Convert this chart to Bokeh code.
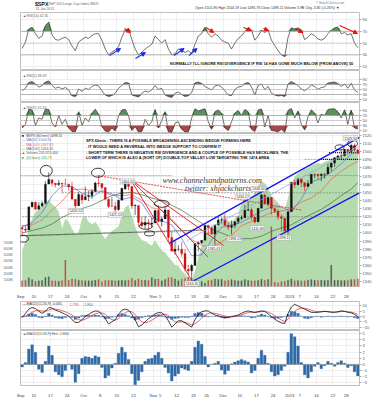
import json
import numpy as np
from bokeh.plotting import figure
from bokeh.layouts import column
from bokeh.models import (Range1d, LinearAxis, FixedTicker, Grid, Span, Label,
                          Arrow, NormalHead, CustomJSTickFormatter)
from bokeh.core.properties import value
from bokeh.embed import file_html
from bokeh.resources import INLINE

FONT = "Liberation Sans"

# ---------------- data (one entry per trading day, 4-Sep-2012 .. 31-Jan-2013) ----------------
opens = [1406.5, 1404.9, 1403.7, 1432.1, 1437.9, 1429.1, 1433.6, 1436.6, 1460.1, 1465.4,
         1461.2, 1459.5, 1461.1, 1460.3, 1459.8, 1456.9, 1441.6, 1433.4, 1447.1, 1440.9,
         1445.0, 1446.1, 1451.1, 1461.4, 1460.9, 1455.9, 1441.5, 1432.8, 1432.8, 1428.8,
         1440.3, 1454.2, 1460.9, 1457.3, 1433.2, 1433.7, 1413.2, 1409.7, 1413.0, 1411.0,
         1412.2, 1427.6, 1414.0, 1417.3, 1428.3, 1394.5, 1377.6, 1379.9, 1380.0, 1374.6,
         1355.4, 1353.4, 1359.9, 1386.8, 1387.8, 1391.0, 1409.2, 1406.3, 1398.8, 1410.0,
         1416.0, 1416.3, 1409.5, 1407.1, 1409.4, 1414.0, 1418.1, 1418.7, 1427.8, 1428.5,
         1419.5, 1413.5, 1430.5, 1446.8, 1435.8, 1443.7, 1430.2, 1426.7, 1419.8, 1418.1,
         1402.4, 1426.2, 1462.4, 1459.4, 1466.5, 1461.9, 1457.2, 1461.0, 1472.1, 1472.1,
         1470.7, 1472.3, 1472.6, 1480.9, 1486.0, 1492.6, 1494.8, 1494.8, 1503.0, 1500.2,
         1507.8, 1502.0]
highs = [1409.3, 1408.8, 1432.1, 1437.9, 1438.7, 1437.8, 1439.2, 1463.8, 1474.5, 1465.6,
         1461.5, 1465.2, 1461.2, 1467.1, 1460.7, 1463.2, 1441.6, 1450.2, 1447.1, 1457.1,
         1451.5, 1454.3, 1463.1, 1471.0, 1460.9, 1455.9, 1442.5, 1443.9, 1438.4, 1441.3,
         1455.5, 1462.2, 1464.0, 1457.3, 1435.5, 1433.7, 1420.0, 1421.1, 1417.1, 1418.8,
         1428.4, 1434.3, 1419.9, 1433.4, 1428.3, 1401.2, 1391.4, 1384.9, 1388.8, 1380.1,
         1360.6, 1362.0, 1386.9, 1389.8, 1391.3, 1409.2, 1409.2, 1409.0, 1410.0, 1419.7,
         1418.9, 1423.7, 1413.1, 1415.6, 1414.0, 1420.3, 1421.6, 1434.3, 1438.6, 1431.4,
         1419.5, 1430.7, 1448.0, 1447.8, 1443.7, 1443.7, 1430.2, 1429.4, 1422.8, 1418.1,
         1426.7, 1462.4, 1465.5, 1467.9, 1466.5, 1461.9, 1464.7, 1472.3, 1472.8, 1472.1,
         1473.3, 1473.0, 1485.2, 1486.0, 1492.6, 1496.1, 1502.3, 1503.3, 1503.2, 1509.4,
         1509.9, 1504.2]
lows = [1396.6, 1401.3, 1403.7, 1431.4, 1429.0, 1429.1, 1432.0, 1435.3, 1460.1, 1457.5,
        1456.1, 1457.9, 1450.0, 1459.5, 1452.1, 1441.6, 1430.5, 1433.4, 1435.6, 1440.9,
        1439.0, 1442.0, 1451.1, 1456.9, 1453.1, 1441.2, 1430.6, 1432.8, 1425.5, 1427.2,
        1440.3, 1453.4, 1452.6, 1429.9, 1422.1, 1407.6, 1407.1, 1405.1, 1403.3, 1406.0,
        1412.2, 1412.9, 1408.1, 1417.3, 1388.1, 1377.5, 1373.0, 1377.2, 1370.8, 1352.5,
        1348.1, 1343.4, 1359.9, 1377.0, 1386.4, 1391.0, 1397.7, 1398.0, 1385.4, 1409.0,
        1411.6, 1408.5, 1403.7, 1398.2, 1405.9, 1410.9, 1415.6, 1418.7, 1426.8, 1416.0,
        1411.9, 1413.5, 1430.5, 1435.8, 1432.8, 1422.6, 1424.7, 1416.4, 1401.6, 1401.6,
        1398.1, 1426.2, 1455.5, 1458.6, 1456.6, 1451.6, 1457.2, 1461.0, 1467.6, 1465.7,
        1463.8, 1467.1, 1472.6, 1475.8, 1481.2, 1489.9, 1489.5, 1494.8, 1496.3, 1498.1,
        1500.1, 1496.8]
closes = [1404.9, 1403.4, 1432.1, 1437.9, 1429.1, 1433.6, 1436.6, 1460.0, 1465.8, 1461.2,
          1459.3, 1461.1, 1460.3, 1460.2, 1456.9, 1441.6, 1433.3, 1447.2, 1440.7, 1444.5,
          1445.8, 1451.0, 1461.4, 1460.9, 1455.9, 1441.5, 1432.6, 1432.8, 1428.6, 1440.1,
          1454.9, 1460.9, 1457.3, 1433.2, 1433.8, 1413.1, 1408.8, 1413.0, 1411.9, 1412.2,
          1427.6, 1414.2, 1417.3, 1428.4, 1394.5, 1377.5, 1380.0, 1380.0, 1374.5, 1355.5,
          1353.3, 1359.9, 1386.9, 1387.8, 1391.0, 1409.2, 1406.3, 1398.9, 1409.9, 1416.0,
          1416.2, 1409.5, 1407.1, 1409.3, 1413.9, 1418.1, 1418.6, 1427.8, 1428.5, 1419.5,
          1413.6, 1430.4, 1446.8, 1435.8, 1443.7, 1430.2, 1426.7, 1419.8, 1418.1, 1402.4,
          1426.2, 1462.4, 1459.4, 1466.5, 1461.9, 1457.2, 1461.0, 1472.1, 1472.1, 1470.7,
          1472.3, 1472.6, 1480.9, 1486.0, 1492.6, 1494.8, 1494.8, 1503.0, 1500.2, 1507.8,
          1502.0, 1498.1]
volume_m = [90, 95, 140, 110, 85, 90, 95, 145, 155, 90,
            90, 85, 95, 420, 100, 120, 115, 100, 95, 90,
            90, 90, 100, 110, 75, 95, 100, 95, 90, 95,
            100, 95, 100, 130, 95, 120, 100, 100, 95, 140,
            115, 120, 90, 110, 140, 145, 120, 90, 115, 130,
            150, 125, 115, 90, 80, 55, 95, 100, 120, 110,
            115, 90, 100, 110, 95, 90, 90, 110, 100, 90,
            90, 95, 115, 100, 110, 950, 70, 60, 80, 85,
            100, 120, 90, 95, 90, 90, 100, 110, 100, 95,
            100, 95, 100, 340, 100, 100, 95, 95, 100, 110,
            110, 120]
green_ind = [32, 40, 51, 60, 66, 68, 72, 74, 76, 73,
             70, 66, 51, 60, 57, 51, 46, 48, 60, 62,
             57, 55, 57, 53, 46, 42, 46, 49, 51, 53,
             63, 70, 72, 62, 53, 45, 41, 40, 38, 36,
             41, 36, 32, 30, 26, 23, 19, 18, 14, 11,
             8, 6, 13, 26, 36, 45, 49, 46, 51, 55,
             60, 62, 58, 57, 60, 63, 74, 78, 80, 77,
             83, 89, 93, 91, 87, 80, 77, 74, 70, 68,
             78, 91, 97, 100, 102, 104, 105, 107, 108, 109,
             108, 110, 111, 112, 114, 115, 116, 118, 120, 121,
             121, 120.71]
ma_idx = [0, 3, 6, 9, 12, 15, 18, 21, 24, 27, 30, 33, 36, 39, 42, 45, 48, 51, 54, 57,
          60, 63, 66, 69, 72, 75, 78, 81, 84, 87, 90, 93, 96, 99, 101]
ma50 = [1407, 1413, 1425, 1446, 1458, 1457, 1449, 1444, 1452, 1448, 1441, 1444, 1437, 1418,
        1415, 1410, 1393, 1372, 1373, 1391, 1407, 1410, 1413, 1420, 1427, 1432, 1432, 1426,
        1442, 1463, 1467, 1475, 1485, 1497, 1500]
ma100 = [1409, 1410, 1416, 1428, 1439, 1453, 1454, 1452, 1451, 1446, 1446, 1447, 1440, 1431,
         1428, 1417, 1404, 1392, 1385, 1382, 1389, 1397, 1409, 1414, 1420, 1425, 1427, 1430,
         1438, 1443, 1452, 1466, 1476, 1484, 1488]
ma200 = [1400, 1403, 1406, 1411, 1419, 1425, 1430, 1434, 1440, 1446, 1449, 1450, 1447, 1443,
         1440, 1434, 1428, 1420, 1412, 1405, 1400, 1395, 1393, 1393, 1396, 1402, 1406, 1410,
         1417, 1423, 1429, 1437, 1446, 1454, 1462]
rsi14 = [41, 52, 74, 77, 66, 58, 62, 80, 86, 64,
         56, 55, 58, 60, 56, 45, 37, 52, 56, 60,
         58, 63, 66, 66, 55, 40, 30, 35, 38, 44,
         60, 72, 75, 56, 40, 30, 34, 40, 44, 48,
         62, 56, 50, 56, 40, 30, 32, 40, 38, 34,
         37, 32, 48, 62, 66, 77, 66, 60, 66, 62,
         55, 52, 50, 40, 50, 58, 62, 70, 76, 72,
         55, 62, 72, 68, 72, 55, 46, 37, 30, 27,
         60, 76, 74, 76, 72, 56, 60, 66, 63, 57,
         55, 58, 66, 72, 76, 77, 66, 68, 64, 66,
         50, 42.35]
rsi5 = [45, 55, 78, 82, 72, 60, 65, 80, 84, 66,
        55, 60, 52, 58, 48, 25, 22, 52, 42, 55,
        50, 62, 68, 64, 45, 28, 22, 26, 35, 55,
        66, 78, 76, 28, 24, 20, 35, 44, 40, 48,
        66, 50, 55, 28, 22, 18, 35, 40, 30, 22,
        25, 38, 76, 80, 74, 62, 55, 48, 64, 68,
        60, 45, 28, 26, 50, 60, 62, 74, 78, 60,
        28, 66, 72, 50, 62, 35, 28, 24, 26, 22,
        72, 82, 74, 66, 52, 45, 55, 68, 62, 50,
        58, 60, 76, 78, 80, 74, 62, 72, 55, 74,
        48, 38.49]
rsi2 = [20, 35, 95, 92, 30, 60, 55, 96, 94, 40,
        25, 70, 35, 55, 20, 6, 5, 85, 30, 60,
        45, 80, 95, 75, 25, 8, 4, 20, 8, 70,
        92, 95, 70, 10, 25, 4, 6, 55, 30, 45,
        94, 20, 50, 85, 5, 3, 40, 45, 15, 4,
        5, 60, 97, 88, 93, 97, 45, 15, 85, 92,
        80, 20, 10, 45, 80, 90, 70, 94, 85, 15,
        6, 92, 96, 25, 70, 10, 8, 5, 15, 3,
        90, 98, 60, 88, 35, 12, 65, 93, 80, 40,
        75, 70, 94, 96, 97, 85, 60, 93, 35, 92,
        20, 15.62]
macd = [-1, 3, 7, 8.5, 7.5, 5, 3, 5, 8.5, 8,
        6, 5, 3.5, 2, 0.6, -3, -5.7, -5.5, -3, 0,
        2, 4, 5.3, 5, 2, -2, -7, -5, -3, 2,
        6, 7, 6, 2, -3, -9.7, -8, -5, -2, 0,
        2.5, 3.8, 3.5, 1, -4, -10, -7, -4, -4, -6,
        -8, -10, -3, 2, 4.5, 5.3, 5.3, 3, 1.5, 0.6,
        -0.5, -1, -1, 0, 0.6, 1.5, 3, 4.5, 5.3, 4.5,
        3.8, 4.5, 5.3, 5, 2.5, 0, -2.5, -4.5, -6, -6.6,
        3, 9, 11.6, 10, 8.5, 7, 5.5, 4, 3.8, 4,
        4.5, 5, 4.5, 4, 4, 4.5, 5.3, 5, 4, 3.5,
        2, -0.065]
signal = [0, 0.5, 2, 4, 5.5, 5.8, 5.2, 5, 6, 7,
          7, 6.5, 5.5, 4.5, 3, 1.5, -1, -3, -3.5, -2.5,
          -1, 1, 2.5, 3.5, 3.5, 2, -1, -3, -3.5, -2,
          1, 3.5, 5, 4.5, 2, -2, -5, -6, -5, -3.5,
          -1.5, 0.5, 2, 2.2, 1, -2.5, -5, -5.5, -5, -5.5,
          -6.5, -8, -7, -4.5, -1.5, 1, 3, 3.5, 3, 2.3,
          1.4, 0.5, -0.2, -0.3, 0, 0.6, 1.5, 2.7, 3.8, 4.2,
          4.2, 4.3, 4.6, 4.8, 4.2, 2.8, 0.8, -1.3, -3.3, -4.8,
          -2.5, 1.5, 5, 7, 8, 7.8, 7, 6, 5, 4.6,
          4.5, 4.7, 4.7, 4.4, 4.2, 4.3, 4.7, 4.8, 4.5, 4.2,
          3.3, 1.799]
hist = [-0.4, 0.3, 2.5, 3.2, 2, -0.8, -1.3, 0.5, 3.0, 1.5,
        -1.2, -1.7, -2, -1, 0, -0.8, -2.9, -1.5, 1, 1.3,
        1.2, 1.0, 1.4, 1.2, -0.5, -2.2, -1.8, -0.6, 0.2, 1.8,
        2.8, 2.0, 0.8, -1.5, -3.3, -2.6, -1.2, 0.5, 0.9, 1.0,
        1.5, 2.0, 1.0, -0.5, -1.4, -2.7, -1.9, -1.5, -0.6, -0.8,
        -1.0, 0.5, 2.8, 3.8, 3.3, 1.3, -0.4, 0, 0.2, 0.5,
        -0.9, -1.6, -1.0, 0.1, 0.4, 0.6, 0.8, 0.6, 0.4, -1.4,
        -1.0, 1.0, 2.3, 1.5, 0.2, -1.2, -1.9, -1.7, -1.0, -0.3,
        2.0, 5.0, 4.5, 3.0, 0.3, -1.7, -2.2, -1.2, -0.3, 0.3,
        -0.7, -0.2, 0.5, 0.2, -0.3, 0.3, 0.6, 0.2, -0.5, -0.2,
        -1.2, -1.864]

tick_days = [0, 4, 9, 14, 19, 24, 29, 34, 40, 42, 47, 52, 56, 61, 66, 71, 76, 81, 84, 89, 94, 98]
tick_labels = ["Sep", "10", "17", "24", "Oct", "8", "15", "22", "Nov", "5", "12", "19", "26",
               "Dec", "10", "17", "24", "2013", "7", "14", "22", "28"]

# annotation levels (day index, price)
price_labels = [(31.7, 1463.5, "1464.02"), (16.2, 1427.1, "1430.53"), (28.1, 1422.4, "1425.53"),
                (51.1, 1337.8, "1343.35"), (57.7, 1381.2, "1385.43"), (63.9, 1392.9, "1398.23"),
                (66.3, 1444.7, "1434.27"), (71.1, 1454.1, "1448.00"), (70.8, 1405.9, "1411.88"),
                (78.8, 1394.1, "1398.11"), (98.8, 1516.5, "1509.94")]

N = len(closes)
idx = list(range(N))
xticks = [d - 0.5 for d in tick_days]
xr = Range1d(-0.5, 101.5)
GRID = "#e4e4e4"


def base(h, yr, bottom=0):
    p = figure(width=377, height=h, x_range=xr, y_range=yr, output_backend="svg",
               toolbar_location=None, x_axis_location=None, y_axis_location=None,
               min_border_left=17, min_border_right=18, min_border_top=0,
               min_border_bottom=bottom)
    p.grid.visible = False
    p.outline_line_color = "#b0b0b0"
    p.outline_line_width = 0.8
    p.background_fill_color = "white"
    p.border_fill_color = "white"
    p.add_layout(Grid(dimension=0, ticker=FixedTicker(ticks=xticks),
                      grid_line_color=GRID, grid_line_width=0.6))
    return p


def raxis(p, ticks, fmt=None):
    ax = LinearAxis(ticker=FixedTicker(ticks=ticks), axis_line_color=None,
                    major_tick_line_color="#aaaaaa", major_tick_out=2, major_tick_in=0,
                    minor_tick_line_color=None, major_label_text_font_size="4px",
                    major_label_text_color="#555555", major_label_text_font=FONT,
                    major_label_standoff=1)
    if fmt is not None:
        ax.formatter = fmt
    p.add_layout(ax, "right")
    p.add_layout(Grid(dimension=1, ticker=FixedTicker(ticks=ticks),
                      grid_line_color=GRID, grid_line_width=0.6))


def xaxis(p):
    code = "const L = %s; const k = String(Math.round(tick + 0.5)); return (k in L) ? L[k] : '';" % \
        json.dumps({str(d): l for d, l in zip(tick_days, tick_labels)})
    ax = LinearAxis(ticker=FixedTicker(ticks=xticks), formatter=CustomJSTickFormatter(code=code),
                    axis_line_color=None, major_tick_line_color=None, minor_tick_line_color=None,
                    major_label_text_font_size="4.3px", major_label_text_color="#444444",
                    major_label_text_font=FONT, major_label_standoff=1)
    p.add_layout(ax, "below")


def txt(p, x, y, s, size="4px", color="#444444", style="normal", align="left", font=FONT, **kw):
    p.text(x=[x], y=[y], text=[s], text_font=value(font), text_font_size=size,
           text_color=color, text_font_style=style, text_align=align,
           text_baseline="middle", **kw)


def rsi_panel(p, vals, hi_col="#5e8f5e", lo_col="#a84848"):
    p.add_layout(Span(location=70, dimension="width", line_color="#9a9a9a", line_width=0.7))
    p.add_layout(Span(location=30, dimension="width", line_color="#9a9a9a", line_width=0.7))
    p.add_layout(Span(location=50, dimension="width", line_color="#9a9a9a", line_width=0.6,
                      line_dash="2 1"))
    p.varea(x=idx, y1=[70] * N, y2=list(np.maximum(vals, 70)), fill_color=hi_col)
    p.varea(x=idx, y1=[30] * N, y2=list(np.minimum(vals, 30)), fill_color=lo_col)
    p.line(idx, vals, line_color="#333333", line_width=0.7)
    raxis(p, [10, 30, 50, 70, 90])


# ---------------- header ----------------
hdr = figure(width=377, height=12, x_range=Range1d(0, 377), y_range=Range1d(12, 0),
             output_backend="svg", toolbar_location=None, x_axis_location=None,
             y_axis_location=None, min_border_left=0, min_border_right=0,
             min_border_top=0, min_border_bottom=0, outline_line_color=None)
hdr.grid.visible = False
txt(hdr, 16, 3.6, "$SPX", size="5.3px", color="#111111", style="bold")
txt(hdr, 31, 3.6, "S&P 500 Large Cap Index  INDX", size="3.5px", color="#666666")
txt(hdr, 17, 8.2, "31-Jan-2013", size="3.2px", color="#666666")
txt(hdr, 360, 2.6, "© StockCharts.com", size="3.3px", color="#777777", align="right")
txt(hdr, 360, 7.4, "Open 1501.96  High 1504.19  Low 1496.76  Close 1498.11  Volume 3.9B  Chg -3.85 (-0.26%) ▼",
    size="3.5px", color="#333333", align="right")

# ---------------- RSI(14) ----------------
p1 = base(58, Range1d(3.4, 102.1))
rsi_panel(p1, rsi14)
txt(p1, 0.2, 96.8, "▲", size="3.5px", color="#3d6b3d")
txt(p1, 1.3, 96.8, "RSI(14) 42.35", size="3.5px", color="#666666")
txt(p1, 99.7, 14.8, "NORMALLY I'LL IGNORE RSI DIVERGENCE IF RSI 14 HAS GONE MUCH BELOW (FROM ABOVE) 50",
    size="3.9px", color="#111111", style="bold", align="right")
for (xs, ys, xe, ye) in [(30.8, 74.9, 32.6, 68.1), (55.3, 76.6, 57.7, 68.1), (66.6, 76.6, 69.0, 71.5),
                         (72.6, 74.9, 74.1, 71.5), (82.1, 74.9, 84.5, 68.1), (95.5, 80.0, 100.9, 66.4)]:
    p1.add_layout(Arrow(end=NormalHead(size=4, fill_color="#ee1111", line_color="#ee1111"),
                        x_start=xs, y_start=ys, x_end=xe, y_end=ye,
                        line_color="#ee1111", line_width=1.1))
for (xs, ys, xe, ye) in [(26.3, 28.9, 29.6, 40.9), (34.1, 23.8, 37.1, 34.0),
                         (45.7, 28.9, 48.7, 40.9), (50.2, 28.9, 52.6, 40.9)]:
    p1.add_layout(Arrow(end=NormalHead(size=4, fill_color="#1a2cf0", line_color="#1a2cf0"),
                        x_start=xs, y_start=ys, x_end=xe, y_end=ye,
                        line_color="#1a2cf0", line_width=1.1))

# ---------------- RSI(5) ----------------
p2 = base(32, Range1d(-2, 126))
rsi_panel(p2, rsi5)
txt(p2, 0.2, 103, "▲", size="3.5px", color="#3d6b3d")
txt(p2, 1.3, 103, "RSI(5) 38.49", size="3.5px", color="#666666")

# ---------------- RSI(2) ----------------
p3 = base(31, Range1d(-2, 122))
rsi_panel(p3, rsi2)
txt(p3, 0.2, 100, "▲", size="3.5px", color="#3d6b3d")
txt(p3, 1.3, 100, "RSI(2) 15.62", size="3.5px", color="#666666")

# ---------------- price ----------------
p4 = base(168, Range1d(1334.1, 1522.4), bottom=8)
p4.extra_y_ranges = {"vol": Range1d(0, 2435), "grn": Range1d(0, 135)}
raxis(p4, list(range(1340, 1521, 10)))
vax = LinearAxis(y_range_name="vol", ticker=FixedTicker(ticks=[100, 200, 300, 400, 500, 600, 700]),
                 formatter=CustomJSTickFormatter(code="return tick + 'M';"),
                 axis_line_color=None, major_tick_line_color=None, minor_tick_line_color=None,
                 major_label_text_font_size="3.6px", major_label_text_color="#666666",
                 major_label_text_font=FONT, major_label_standoff=2)
p4.add_layout(vax, "left")
xaxis(p4)

p4.varea(x=idx, y1=[0] * N, y2=green_ind, y_range_name="grn", fill_color="#b4dbae")
vcol = ["#555555" if c >= o else "#c0504d" for o, c in zip(opens, closes)]
p4.vbar(x=idx, top=volume_m, bottom=0, width=0.35, y_range_name="vol",
        fill_color=vcol, line_color=vcol, line_width=0.3)

# horizontal level lines
for (x0, x1, yv) in [(-0.5, 45, 1470.6), (85, 101.5, 1470.6), (12, 101.5, 1449.4),
                     (0, 101.5, 1420.0), (85, 101.5, 1490.6)]:
    p4.segment(x0=[x0], y0=[yv], x1=[x1], y1=[yv], line_color="#777777",
               line_width=0.6, line_dash="2 1")
for (x0, y0, x1, y1) in [(-0.5, 1396.5, 54.1, 1403.5), (92.3, 1498.8, 101.5, 1498.8),
                         (89.3, 1490.6, 101.5, 1490.6)]:
    p4.segment(x0=[x0], y0=[y0], x1=[x1], y1=[y1], line_color="#111111",
               line_width=1.2, line_dash="1 1")

# moving averages
p4.line(ma_idx, ma200, line_color="#3d6b3d", line_width=0.7)
p4.line(ma_idx, ma100, line_color="#e8605a", line_width=0.7)
p4.line(ma_idx, ma50, line_color="#5a6be0", line_width=0.7)

# candles
ccol = ["#111111" if c >= o else "#d01010" for o, c in zip(opens, closes)]
p4.segment(x0=idx, y0=lows, x1=idx, y1=highs, line_color=ccol, line_width=0.6)
p4.vbar(x=idx, top=list(np.maximum(opens, closes)), bottom=list(np.minimum(opens, closes)),
        width=0.6, fill_color=ccol, line_color=ccol, line_width=0.3)

# trend lines
p4.segment(x0=[22.8], y0=[1470.6], x1=[83.9], y1=[1428.2], line_color="#e02020",
           line_width=0.8, line_dash="2 1")
for (xe, ye) in [(51.1, 1341.2), (55.9, 1370.6), (60.6, 1384.7)]:
    p4.segment(x0=[32.6], y0=[1465.9], x1=[xe], y1=[ye], line_color="#ee1111", line_width=0.9)
p4.segment(x0=[49.6], y0=[1390.6], x1=[101.5], y1=[1507.1], line_color="#8aa2f5", line_width=0.7)
p4.segment(x0=[44.3, 51.1], y0=[1387.1, 1340.0], x1=[101.5, 101.5], y1=[1517.6, 1449.4],
           line_color="#1515ee", line_width=1.3)

# circles
ell = [(7.25, 1476.5, 12, 11), (22.8, 1474.1, 13, 9), (37.2, 1408.2, 13, 6), (38.3, 1399.4, 10, 5),
       (42.0, 1435.9, 15, 7), (0.4, 1392.9, 10, 7), (95.5, 1505.3, 9, 5), (99.4, 1510.0, 10, 7)]
p4.ellipse(x=[e[0] for e in ell], y=[e[1] for e in ell], width=[e[2] for e in ell],
           height=[e[3] for e in ell], width_units="screen", height_units="screen",
           fill_color=None, line_color="#111111", line_width=0.8)

for (lx, ly, lt) in price_labels:
    p4.add_layout(Label(x=lx, y=ly, text=lt, text_font=FONT, text_font_size="3.5px",
                        text_color="#333333", text_align="center", text_baseline="middle",
                        background_fill_color="white", border_line_color="#999999",
                        border_line_width=0.5, padding=1))

# legend
leg = [("■", "#111111", "$SPX (60 min) 1498.11", "#444444"),
       ("—", "#5a6be0", "MA(50) 1500.26", "#5a6be0"),
       ("—", "#e8605a", "MA(100) 1487.63", "#e8605a"),
       ("—", "#3d6b3d", "MA(200) 1464.35", "#3d6b3d"),
       ("▲", "#555555", "Volume 245,923,400", "#555555"),
       ("■", "#6fae66", "(10 bars) 120.71", "#4d8a45")]
for k, (ic, icc, t, tc) in enumerate(leg):
    yv = 1519.6 - k * 5.4
    txt(p4, -0.1, yv, ic, size="3.5px", color=icc)
    txt(p4, 1.2, yv, t, size="3.5px", color=tc)

notes = ["SPX 60min : THERE IS A POSSIBLE BROADENING ASCENDING WEDGE FORMING HERE",
         ". IT WOULD NEED A REVERSAL INTO WEDGE SUPPORT TO CONFIRM IT",
         ". SHORT TERM THERE IS NEGATIVE RSI DIVERGENCE AND A COUPLE OF POSSIBLE H&S NECKLINES, THE",
         "LOWER OF WHICH IS ALSO A (SORT OF) DOUBLE-TOP VALLEY LOW TARGETING THE 1474 AREA"]
for k, s in enumerate(notes):
    txt(p4, 19.2, 1513.5 - k * 7.05, s, size="3.9px", color="#111111", style="bold")

txt(p4, 42.2, 1464.7, "www.channelsandpatterns.com", size="8px", color="#3a3a3a",
    style="italic", font="Liberation Serif")
txt(p4, 49.0, 1454.1, "twitter: shjackcharts", size="8px", color="#3a3a3a",
    style="italic", font="Liberation Serif")

# ---------------- MACD ----------------
p5 = base(29, Range1d(-13.2, 14.2))
raxis(p5, [-10, -5, 0, 5, 10])
p5.vbar(x=idx, top=hist, bottom=0, width=0.8, fill_color="#3a70b0", line_color="#3a70b0",
        line_width=0.3)
p5.line(idx, signal, line_color="#e84040", line_width=0.8)
p5.line(idx, macd, line_color="#111111", line_width=0.8)
txt(p5, 0.2, 11.5, "—", size="3.5px", color="#111111")
txt(p5, 1.3, 11.5, "MACD(12,26,9) -0.065,", size="3.5px", color="#333333")
txt(p5, 14.3, 11.5, "1.799,", size="3.5px", color="#e84040")
txt(p5, 18.3, 11.5, "-1.864", size="3.5px", color="#3a70b0")

# ---------------- MACD histogram ----------------
p6 = base(70, Range1d(-3.43, 5.52), bottom=10)
raxis(p6, [-3, -2, -1, 0, 1, 2, 3, 4, 5])
xaxis(p6)
p6.add_layout(Span(location=0, dimension="width", line_color="#9a9a9a", line_width=0.7))
p6.vbar(x=idx, top=hist, bottom=0, width=0.8, fill_color="#2f6aa8", line_color="#2f6aa8",
        line_width=0.3)
txt(p6, 0.2, 5.0, "▲", size="3.5px", color="#2f6aa8")
txt(p6, 1.3, 5.0, "MACD(12,26,9) Hist -1.864", size="3.5px", color="#555555")

layout = column(hdr, p1, p2, p3, p4, p5, p6, spacing=0)
open("out.html", "w").write(file_html(layout, INLINE))
